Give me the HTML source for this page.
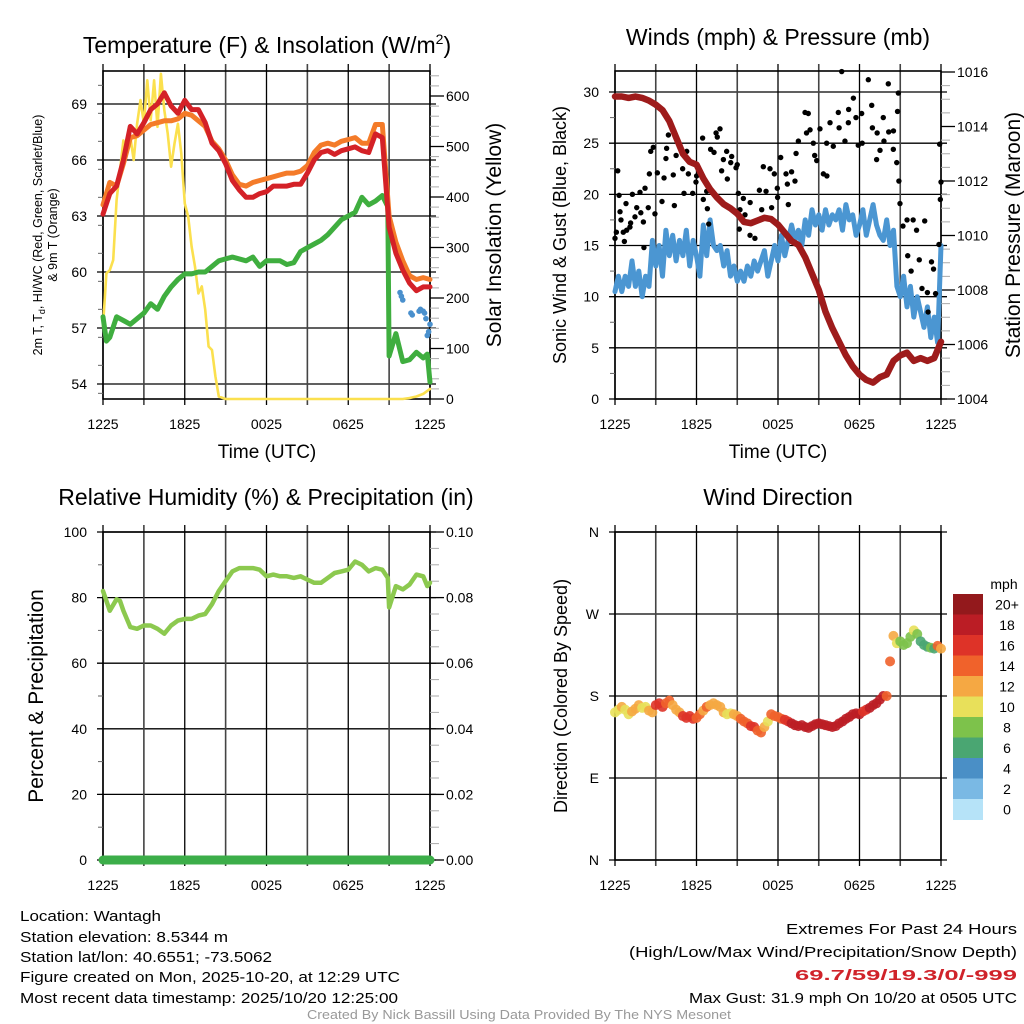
<!DOCTYPE html>
<html><head><meta charset="utf-8"><style>
html,body{margin:0;padding:0;background:#fff;}
svg{display:block;font-family:"Liberation Sans",sans-serif;}
</style></head><body>
<svg id="fig" width="1024" height="1024" viewBox="0 0 1024 1024" xmlns="http://www.w3.org/2000/svg">
<rect width="1024" height="1024" fill="#fff"/>
<g id="g1"></g>
<g id="g2"></g>
<g id="g3"></g>
<g id="g4"></g>
<text x="267" y="53" font-size="23" text-anchor="middle">Temperature (F) &amp; Insolation (W/m<tspan font-size="14" dy="-9">2</tspan><tspan dy="9">)</tspan></text>
<text x="778" y="45" font-size="23" text-anchor="middle">Winds (mph) &amp; Pressure (mb)</text>
<text x="266" y="505" font-size="23" text-anchor="middle">Relative Humidity (%) &amp; Precipitation (in)</text>
<text x="778" y="505" font-size="23" text-anchor="middle">Wind Direction</text>
<text x="267" y="458" font-size="19" text-anchor="middle">Time (UTC)</text>
<text x="778" y="458" font-size="19" text-anchor="middle">Time (UTC)</text>
<g font-size="12.5" text-anchor="middle">
<text transform="translate(42,235) rotate(-90)">2m T, T<tspan font-size="9" dy="3">d</tspan><tspan dy="-3">, HI/WC (Red, Green, Scarlet/Blue)</tspan></text>
<text transform="translate(57,235) rotate(-90)">&amp; 9m T (Orange)</text>
</g>
<text transform="translate(501,235) rotate(-90)" font-size="21" text-anchor="middle">Solar Insolation (Yellow)</text>
<text transform="translate(566,235) rotate(-90)" font-size="18" text-anchor="middle">Sonic Wind &amp; Gust (Blue, Black)</text>
<text transform="translate(1020,235) rotate(-90)" font-size="21" text-anchor="middle">Station Pressure (Maroon)</text>
<text transform="translate(43,696) rotate(-90)" font-size="21" text-anchor="middle">Percent &amp; Precipitation</text>
<text transform="translate(567,696) rotate(-90)" font-size="18" text-anchor="middle">Direction (Colored By Speed)</text>
<g id="cbar"></g>
<g font-size="15">
<text x="20" y="921" textLength="141" lengthAdjust="spacingAndGlyphs">Location: Wantagh</text>
<text x="20" y="942" textLength="208" lengthAdjust="spacingAndGlyphs">Station elevation: 8.5344 m</text>
<text x="20" y="962" textLength="252" lengthAdjust="spacingAndGlyphs">Station lat/lon: 40.6551; -73.5062</text>
<text x="20" y="982" textLength="380" lengthAdjust="spacingAndGlyphs">Figure created on Mon, 2025-10-20, at 12:29 UTC</text>
<text x="20" y="1003" textLength="378" lengthAdjust="spacingAndGlyphs">Most recent data timestamp: 2025/10/20 12:25:00</text>
</g>
<g font-size="15">
<text x="786" y="934" textLength="231" lengthAdjust="spacingAndGlyphs">Extremes For Past 24 Hours</text>
<text x="629" y="957" textLength="388" lengthAdjust="spacingAndGlyphs">(High/Low/Max Wind/Precipitation/Snow Depth)</text>
<text x="795" y="980" textLength="222" lengthAdjust="spacingAndGlyphs" fill="#d0232a" font-weight="bold">69.7/59/19.3/0/-999</text>
<text x="689" y="1003" textLength="328" lengthAdjust="spacingAndGlyphs">Max Gust: 31.9 mph On 10/20 at 0505 UTC</text>
</g>
<text x="307" y="1019" font-size="13" fill="#999" textLength="424" lengthAdjust="spacingAndGlyphs">Created By Nick Bassill Using Data Provided By The NYS Mesonet</text>
</svg>
<script>
// ---------- DATA ----------
const xTickLabels = ["1225","1825","0025","0625","1225"];
const tempTicks = [54,57,60,63,66,69];
const solarTicks = [0,100,200,300,400,500,600];
const windTicks = [0,5,10,15,20,25,30];
const presTicks = [1004,1006,1008,1010,1012,1014,1016];
const rhTicks = [0,20,40,60,80,100];
const precipTicks = ["0.00","0.02","0.04","0.06","0.08","0.10"];
const dirTickLabels = ["N","E","S","W","N"];
const speedLevels = ["0","2","4","6","8","10","12","14","16","18","20+"];

const hHalf = [0,0.5,1,1.5,2,2.5,3,3.5,4,4.5,5,5.5,6,6.5,7,7.5,8,8.5,9,9.5,10,10.5,11,11.5,12,12.5,13,13.5,14,14.5,15,15.5,16,16.5,17,17.5,18,18.5,19,19.5,20,20.5,21,21.5,22,22.5,23,23.5,24];
const temp2m = [63.1,64.2,64.6,66.0,67.8,67.4,68.0,68.7,69.0,69.6,68.9,68.5,69.2,68.7,68.7,68.0,66.9,66.5,65.8,64.9,64.4,64.0,64.0,64.2,64.3,64.6,64.6,64.6,64.7,64.7,65.3,66.0,66.4,66.5,66.3,66.5,66.6,66.7,66.5,66.4,67.4,67.2,62.4,61.0,60.1,59.4,59.0,59.2,59.2];
const temp9m = [63.6,64.8,64.6,65.8,67.2,67.3,67.6,67.9,68.0,68.1,68.1,68.2,68.5,68.4,68.1,67.8,67.0,66.6,66.0,65.2,64.7,64.6,64.8,64.9,65.0,65.1,65.2,65.3,65.3,65.4,65.7,66.4,66.8,66.9,66.8,67.0,67.1,67.2,66.9,66.9,67.9,67.9,63.0,61.6,60.6,59.8,59.6,59.7,59.6];
const dewHours = [0,0.25,0.5,1,1.5,2,2.5,3,3.5,4,4.5,5,5.5,6,6.5,7,7.5,8,8.5,9,9.5,10,10.5,11,11.5,12,12.5,13,13.5,14,14.5,15,15.5,16,16.5,17,17.5,18,18.5,19,19.5,20,20.5,20.9,21.0,21.5,22,22.5,23,23.5,23.8,24];
const dewpt = [57.6,56.3,56.5,57.6,57.4,57.2,57.5,57.8,58.3,58.0,58.7,59.2,59.6,59.9,59.9,60.0,60.0,60.3,60.6,60.7,60.8,60.7,60.6,60.8,60.3,60.6,60.6,60.6,60.4,60.5,61.1,61.3,61.5,61.7,62.0,62.4,62.8,63.0,63.2,64.0,63.6,63.8,64.1,63.5,55.5,56.7,55.2,55.3,55.7,55.4,55.6,54.1];
const hiwcHours = [21.8,21.9,22.0,22.6,22.7,23.2,23.3,23.5,23.6,23.7,23.8,23.9,24];
const hiwc = [58.9,58.7,58.5,57.8,57.7,57.9,58.0,57.9,57.8,57.5,56.6,56.8,57.2];
const solarHours = [0,0.25,0.5,0.75,1,1.25,1.5,1.75,2,2.25,2.5,2.75,3,3.25,3.5,3.75,4,4.25,4.5,4.75,5,5.25,5.5,5.75,6,6.25,6.5,6.75,7,7.25,7.5,7.75,8,8.25,8.5,9,12,18,22,22.5,23,23.5,24];
const solar = [144,249,255,275,394,453,512,486,519,473,545,592,545,631,552,631,539,644,572,526,460,506,545,486,387,361,302,262,209,223,177,104,97,45,5,0,0,0,0,2,5,10,20];

const pressure = [1015.1,1015.1,1015.05,1015.1,1015.05,1014.95,1014.8,1014.6,1014.2,1013.6,1013.0,1012.7,1012.6,1012.1,1011.7,1011.4,1011.15,1011.0,1010.8,1010.5,1010.45,1010.55,1010.65,1010.6,1010.4,1010.1,1009.8,1009.65,1009.2,1008.6,1008.0,1007.2,1006.6,1006.1,1005.6,1005.2,1004.9,1004.7,1004.6,1004.8,1004.9,1005.4,1005.6,1005.7,1005.4,1005.5,1005.4,1005.5,1006.1];
const windHours = [0,0.25,0.5,0.75,1,1.25,1.5,1.75,2,2.25,2.5,2.75,3,3.25,3.5,3.75,4,4.25,4.5,4.75,5,5.25,5.5,5.75,6,6.25,6.5,6.75,7,7.25,7.5,7.75,8,8.25,8.5,8.75,9,9.25,9.5,9.75,10,10.25,10.5,10.75,11,11.25,11.5,11.75,12,12.25,12.5,12.75,13,13.25,13.5,13.75,14,14.25,14.5,14.75,15,15.25,15.5,15.75,16,16.25,16.5,16.75,17,17.25,17.5,17.75,18,18.25,18.5,18.75,19,19.25,19.5,19.75,20,20.25,20.5,20.75,21,21.25,21.5,21.75,22,22.25,22.5,22.75,23,23.25,23.5,23.75,24];
const windSpd = [10.5,12,10.5,12,11,13.5,11,12.5,10,12,11,15.5,13,15,12,16.5,14,16,13.5,15.5,14,16.5,13,15.5,14,12,17,14,17.5,15,14.5,15,13,14.5,12,13,11.5,12.5,11.5,13,12,13.5,12.5,13.5,14.5,12,13.5,15,13.5,16,14,15.5,17,15.5,16.5,15,17.5,16,18.5,17,18,16.5,18.5,17,18,17.5,18.5,16.5,19,17.5,18,16,17,18.5,16,17.5,19,17,16,15.5,17.5,15,16.5,11,10,12,9,11,8,10,8.5,7,9,6,8,5.5,15];
const gustHours = [0,0.1,0.2,0.3,0.37,0.44,0.61,0.69,0.81,0.86,1.1,1.15,1.28,1.47,1.6,1.84,1.9,2.09,2.13,2.21,2.45,2.53,2.63,2.82,2.94,3.12,3.46,3.61,3.75,3.8,3.93,4.29,4.37,4.5,4.98,5.08,5.28,5.4,5.72,5.96,6.01,6.45,6.5,6.75,6.8,6.9,7.04,7.29,7.44,7.53,7.73,7.85,7.98,8.22,8.27,8.52,8.59,8.91,9.0,9.08,9.15,9.2,9.45,9.57,9.94,9.95,10.3,10.63,10.8,10.92,11.12,11.41,11.53,11.73,11.95,11.97,12.2,12.59,12.69,12.76,13.0,13.25,13.33,13.5,13.99,14.1,14.23,14.36,14.6,14.7,14.85,15.09,15.34,15.58,15.6,15.83,16.07,16.44,16.5,16.69,16.93,17.18,17.2,17.55,17.74,17.91,18.16,18.2,18.65,18.9,18.95,19.26,19.3,19.51,19.75,19.8,20.12,20.15,20.49,20.5,20.74,20.8,20.86,20.9,20.98,21.2,21.5,21.55,21.8,21.95,22.2,22.4,22.6,22.8,23.0,23.05,23.3,23.45,23.6,23.85,23.9,23.95,24];
const gust = [15.7,16.3,22.3,19.9,18.3,17.5,16.3,15.4,19.1,16.5,16.8,17.2,20.0,17.8,18.7,20.2,18.2,17.3,14.8,20.6,18.7,22.0,24.2,24.6,18.1,22.1,19.3,21.6,23.5,24.5,25.8,21.9,18.9,23.8,22.5,20.1,24.2,22.0,20.1,21.2,21.8,25.5,19.5,20.3,18.6,17.1,24.4,24.1,26.0,25.6,26.4,22.3,23.4,24.2,21.5,23.1,23.7,22.6,22.9,20.1,16.6,18.5,19.6,18.0,16.0,19.2,15.7,20.4,18.5,22.7,20.3,22.5,18.7,22.0,20.6,19.7,23.6,22.0,21.0,19.0,22.2,21.3,24.0,25.2,28.0,26.0,27.9,26.3,25.0,23.8,23.3,26.4,22.0,25.0,21.8,27.0,24.7,28.0,26.5,32.0,25.2,27.0,28.3,29.4,27.5,24.8,27.9,25.0,31.2,28.7,26.5,23.4,26.0,24.3,27.5,25.2,30.8,26.1,24.4,26.2,23.1,28.1,29.9,21.3,19.1,16.9,17.5,14.0,12.5,17.5,16.5,13.6,10.8,17.4,10.4,8.5,13.4,12.7,10.3,15.1,24.9,19.5,21.2,17.9];

const rhHours = [0,0.25,0.5,1,1.25,1.5,2,2.5,3,3.5,4,4.5,5,5.5,6,6.5,7,7.5,8,8.5,9,9.5,10,10.5,11,11.5,12,12.5,13,13.5,14,14.5,15,15.5,16,16.5,17,17.5,18,18.5,19,19.5,20,20.5,20.9,21,21.5,22,22.5,23,23.5,23.8,24];
const rh = [82,79,76,79.5,79,76,71,70.5,71.5,71.5,70.5,69,71.5,73,73.5,73.5,74.5,75,78,82,85,88,89,89,89,88.5,86.5,87,86.5,86.5,86,86.5,85.5,84.5,84.5,86,87.5,88,88.5,91,90,88,89,88.5,86,77,83.5,82.5,84,87,86.5,83.5,84.5];
const precipHours = [0,24];
const precip = [0,0];

const dirHours = [0,0.25,0.5,0.75,1,1.25,1.5,1.75,2,2.25,2.5,2.75,3,3.25,3.5,3.75,4,4.25,4.5,4.75,5,5.25,5.5,5.75,6,6.25,6.5,6.75,7,7.25,7.5,7.75,8,8.25,8.5,8.75,9,9.25,9.5,9.75,10,10.25,10.5,10.75,11,11.25,11.5,11.75,12,12.25,12.5,12.75,13,13.25,13.5,13.75,14,14.25,14.5,14.75,15,15.25,15.5,15.75,16,16.25,16.5,16.75,17,17.25,17.5,17.75,18,18.25,18.5,18.75,19,19.25,19.5,19.75,20,20.25,20.5,20.75,21,21.25,21.5,21.75,22,22.25,22.5,22.75,23,23.25,23.5,23.75,24];
const dirDeg = [162,165,168,165,160,163,166,170,167,168,164,162,170,172,168,172,175,
170,165,162,158,156,158,155,156,160,164,168,170,172,170,168,162,
160,161,160,158,155,152,150,147,146,142,140,146,152,160,158,157,
155,154,152,150,148,147,148,146,145,147,149,150,149,148,147,146,
147,150,152,155,157,160,161,160,163,165,167,170,172,176,180,180,
218,246,238,240,236,238,245,252,248,240,236,234,233,232,235,232];
const dirSpd = [10,11,12,10,11,12,13,12,11,10,12,13,16,17,16,15,14,
12,12,13,16,17,16,17,15,14,13,14,13,12,12,12,12,
11,11,12,12,14,14,15,16,16,15,14,13,11,14,15,14,
15,16,17,18,18,18,19,18,18,19,18,19,18,19,18,18,
18,18,19,18,19,18,18,18,17,17,18,18,18,18,18,15,
14,12,10,9,8,9,8,10,8,7,6,7,8,7,14,12];

// ---------- HELPERS ----------
const NS="http://www.w3.org/2000/svg";
function mk(parent,tag,attrs){const e=document.createElementNS(NS,tag);for(const k in attrs)e.setAttribute(k,attrs[k]);parent.appendChild(e);return e;}
function txt(parent,x,y,s,size,anchor){const t=mk(parent,"text",{x:x,y:y,"font-size":size,"text-anchor":anchor});t.textContent=s;return t;}
const speedColors=["#b6e3f8","#7ab9e4","#4a8fc6","#4aa672","#7dc24b","#e8e05a","#f5a843","#f0622b","#de3328","#bb1d25","#93191c"];
function speedColor(s){let i=Math.floor(s/2);if(i<0)i=0;if(i>10)i=10;return speedColors[i];}

function frame(g,P,hLinesY,leftLabels,leftY,rightLabels,rightY,minorL,minorR){
  hLinesY.forEach(y=>{const l=mk(g,"line",{x1:P.x0-6,x2:P.x1+6,y1:y,y2:y,stroke:"#000","stroke-width":1.3});
    
    });
  for(let i=0;i<=8;i++){const x=P.x0+(P.x1-P.x0)*i/8;
    const l=mk(g,"line",{x1:x,x2:x,y1:P.y0-7,y2:P.y1+6,stroke:i%2?"#444":"#000","stroke-width":i%2?1.6:1.3});
    
    }
  mk(g,"rect",{x:P.x0,y:P.y0,width:P.x1-P.x0,height:P.y1-P.y0,fill:"none",stroke:"#000","stroke-width":1.6});
  minorL.forEach(y=>mk(g,"line",{x1:P.x0-5,x2:P.x0,y1:y,y2:y,stroke:"#666","stroke-width":1}));
  minorR.forEach(y=>mk(g,"line",{x1:P.x1,x2:P.x1+9,y1:y,y2:y,stroke:"#aaa","stroke-width":1}));
  leftLabels.forEach((s,i)=>{const t=txt(g,P.x0-16,leftY[i]+5,s,14,"end");
    
    });
  rightLabels.forEach((s,i)=>{mk(g,"line",{x1:P.x1,x2:P.x1+14,y1:rightY[i],y2:rightY[i],stroke:"#000","stroke-width":1.3});
    const t=txt(g,P.x1+16,rightY[i]+5,s,14,"start");
    
    });
  xTickLabels.forEach((s,i)=>{const t=txt(g,P.x0+(P.x1-P.x0)*i/4,P.y1+30,s,14,"middle");
    
    });
}
function path(g,hs,vs,X,Y,color,w,name){
  let d="";let pen=false;
  hs.forEach((h,i)=>{if(vs[i]==null){pen=false;return;}d+=(pen?"L":"M")+X(h).toFixed(1)+","+Y(vs[i]).toFixed(1);pen=true;});
  const p=mk(g,"path",{d:d,fill:"none",stroke:color,"stroke-width":w,"stroke-linejoin":"round","stroke-linecap":"round"});
  
  
  return p;
}
function range(a,b,s){const r=[];for(let v=a;v<=b+1e-9;v+=s)r.push(v);return r;}

// ---------- PANEL 1 : temperature ----------
(function(){
  const g=document.getElementById("g1");
  const P={x0:103,x1:430,y0:71,y1:399};
  const X=h=>P.x0+(P.x1-P.x0)*h/24;
  const Y=v=>384-(v-54)*18.667;
  const YS=v=>399-v*0.505;
  frame(g,P,tempTicks.map(Y),tempTicks.map(String),tempTicks.map(Y),solarTicks.map(String),solarTicks.map(YS),
    range(53.5,70.5,1.5).map(Y).filter(y=>y>P.y0&&y<P.y1),range(0,640,20).map(YS).filter(y=>y>=P.y0));
  path(g,solarHours,solar,X,YS,"#fbe04e",2.6,"solar-insolation-line");
  path(g,dewHours,dewpt,X,Y,"#3fae3f",5,"dewpoint-line");
  path(g,hHalf,temp9m,X,Y,"#f47b29",5,"temp-9m-line");
  path(g,hHalf,temp2m,X,Y,"#d42127",5,"temp-2m-line");
  hiwcHours.forEach((h,i)=>{const c=mk(g,"circle",{cx:X(h),cy:Y(hiwc[i]),r:2.8,fill:"#4a90cd"});
    
    });
})();

// ---------- PANEL 2 : winds ----------
(function(){
  const g=document.getElementById("g2");
  const P={x0:615,x1:941,y0:71,y1:399};
  const X=h=>P.x0+(P.x1-P.x0)*h/24;
  const Y=v=>399-v*10.233;
  const YP=v=>399-(v-1004)*27.25;
  frame(g,P,windTicks.map(Y),windTicks.map(String),windTicks.map(Y),presTicks.map(String),presTicks.map(YP),
    range(2.5,30,5).map(Y),range(1004.5,1015.5,0.5).map(YP));
  path(g,windHours,windSpd,X,Y,"#4b96d2",5,"wind-speed-line");
  gustHours.forEach((h,i)=>{const c=mk(g,"circle",{cx:X(h),cy:Y(gust[i]),r:2.7,fill:"#000"});
    
    });
  path(g,hHalf,pressure,X,YP,"#9e1b1b",6.5,"pressure-line");
})();

// ---------- PANEL 3 : humidity ----------
(function(){
  const g=document.getElementById("g3");
  const P={x0:103,x1:430,y0:532,y1:860};
  const X=h=>P.x0+(P.x1-P.x0)*h/24;
  const Y=v=>860-v*3.28;
  frame(g,P,rhTicks.map(Y),rhTicks.map(String),rhTicks.map(Y),precipTicks,rhTicks.map(Y),
    range(10,90,20).map(Y),range(5,95,5).map(Y));
  path(g,rhHours,rh,X,Y,"#8cc94f",4.5,"relative-humidity-line");
  const YPr=v=>860-v*3280;
  path(g,precipHours,precip,X,YPr,"#3cae49",9,"precipitation-line");
})();

// ---------- PANEL 4 : direction ----------
(function(){
  const g=document.getElementById("g4");
  const P={x0:615,x1:941,y0:532,y1:860};
  const X=h=>P.x0+(P.x1-P.x0)*h/24;
  const Y=v=>860-v*0.9111;
  const dT=[0,90,180,270,360];
  frame(g,P,dT.map(Y),dirTickLabels,dT.map(Y),[],[],[],[]);
  dirHours.forEach((h,i)=>{const c=mk(g,"circle",{cx:X(h),cy:Y(dirDeg[i]),r:5,fill:speedColor(dirSpd[i]),"fill-opacity":0.9});
    
    });
  const cb=document.getElementById("cbar");
  const top=594,bh=20.5;
  const u=txt(cb,1004,589,"mph",14,"middle");
  
  
  for(let i=0;i<speedLevels.length;i++){
    const idx=10-i;const y=top+i*bh;
    const r=mk(cb,"rect",{x:953,y:y,width:30,height:bh+0.5,fill:speedColors[idx]});
    
    
    const t=txt(cb,1007,y+bh/2+5,speedLevels[idx],14,"middle");
    
    
  }
})();
</script>
</body></html>
